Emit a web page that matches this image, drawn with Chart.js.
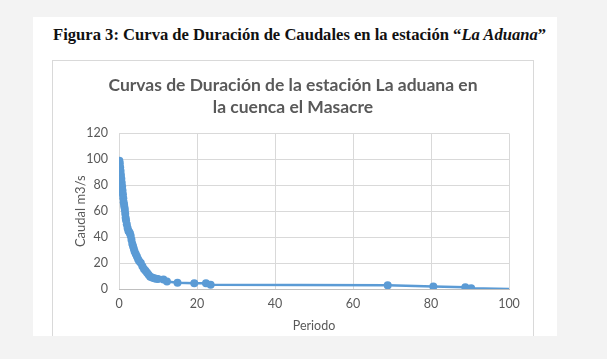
<!DOCTYPE html>
<html>
<head>
<meta charset="utf-8">
<script src="https://cdn.jsdelivr.net/npm/chart.js@4"></script>
<style>
  body { margin: 0; background: #f3f3f3; width: 607px; height: 359px; overflow: hidden; }
  #page { position: absolute; left: 33px; top: 17px; width: 524px; height: 319px; background: #fff; overflow: hidden; }
  #caption { position: absolute; left: 20px; top: 8px; font: bold 16.6px "Liberation Serif", serif; color: #111; white-space: nowrap; }
  #box { position: absolute; left: 19px; top: 43px; width: 480px; height: 280px; border: 1px solid #d9d9d9; }
  #box canvas { display: block; }
</style>
</head>
<body>
<div id="page">
  <div id="caption">Figura 3: Curva de Duración de Caudales en la estación “<i>La Aduana</i>”</div>
  <div id="box"><canvas id="chart" width="480" height="280"></canvas></div>
</div>
<script>
// Datos (x = periodo, y = caudal m3/s)
const periodo = [0.1, 0.2, 0.3, 0.4, 0.5, 0.6, 0.7, 0.8, 0.9, 1.0, 1.1, 1.2, 1.3, 1.4, 1.5, 1.6, 1.7, 1.8,
  2.0, 2.2, 2.4, 2.6, 2.8, 3.0, 3.2, 3.4, 3.6, 3.8, 4.0, 4.3, 4.6, 4.9, 5.2, 5.6, 6.0, 6.4, 6.8,
  7.2, 7.6, 8.0, 8.5, 9.0, 9.5, 10.0, 11.4, 12.3, 15.0, 19.3, 22.3, 23.5, 68.9, 80.6, 88.8, 90.3, 100];
const caudal = [99, 97, 94, 91, 88, 85, 82, 79, 76, 73, 70, 67, 65, 63, 61, 58, 55, 53,
  50, 47, 45, 44, 43, 41, 38, 35, 33, 31, 29, 27, 25, 23, 21.5, 20, 17.5, 15.5, 14,
  12.5, 11, 9.5, 8.8, 8.3, 8, 7.8, 7.4, 5.8, 4.9, 4.4, 4.4, 3.3, 2.8, 2.0, 1.3, 0.6, 0];
const xTicks = [0, 20, 40, 60, 80, 100];
const yTicks = [0, 20, 40, 60, 80, 100, 120];

const BLUE = "#5b9bd5";
const TEXT = "#595959";
const FONT = "Lato, 'Open Sans', sans-serif";

const puntos = periodo.map((x, i) => ({ x: x, y: caudal[i] }));
const radios = periodo.map((x, i) => (i === periodo.length - 1 ? 0 : 4));

new Chart(document.getElementById("chart").getContext("2d"), {
  type: "line",
  data: {
    datasets: [
      {
        data: puntos,
        borderColor: BLUE,
        backgroundColor: BLUE,
        borderWidth: 2.5,
        pointRadius: radios,
        pointBorderWidth: 0,
        tension: 0,
      },
    ],
  },
  options: {
    responsive: false,
    animation: false,
    layout: { padding: 0 },
    plugins: {
      legend: { display: false },
      tooltip: { enabled: false },
      title: {
        display: true,
        text: ["Curvas de Duración de la estación La aduana en", "la cuenca el Masacre"],
        color: TEXT,
        font: { family: FONT, size: 17.5, weight: "bold", lineHeight: 1.27 },
        padding: { top: 13, bottom: 15 },
      },
    },
    scales: {
      x: {
        type: "linear",
        min: 0,
        max: 100,
        afterBuildTicks: (s) => { s.ticks = xTicks.map((v) => ({ value: v })); },
        afterFit: (s) => { s.height = 52; },
        grid: { color: "#d9d9d9", drawTicks: false },
        border: { color: "#bfbfbf" },
        ticks: { color: TEXT, font: { family: FONT, size: 12.5 }, padding: 7 },
        title: { display: true, text: "Periodo", color: TEXT, font: { family: FONT, size: 12.5 }, padding: { top: 0, bottom: 8 } },
      },
      y: {
        min: 0,
        max: 120,
        afterBuildTicks: (s) => { s.ticks = yTicks.map((v) => ({ value: v })); },
        afterFit: (s) => { s.width = 66; },
        grid: { color: "#d9d9d9", drawTicks: false },
        border: { display: false },
        ticks: { color: TEXT, font: { family: FONT, size: 12.5 }, padding: 11 },
        title: { display: true, text: "Caudal m3/s", color: TEXT, font: { family: FONT, size: 13 }, padding: { top: 20, bottom: 0 } },
      },
      // eje vacío a la derecha solo para reservar el margen
      margen: {
        position: "right",
        afterFit: (s) => { s.width = 24; },
        grid: { display: false },
        border: { display: false },
        ticks: { display: false },
      },
    },
  },
});
</script>
</body>
</html>
